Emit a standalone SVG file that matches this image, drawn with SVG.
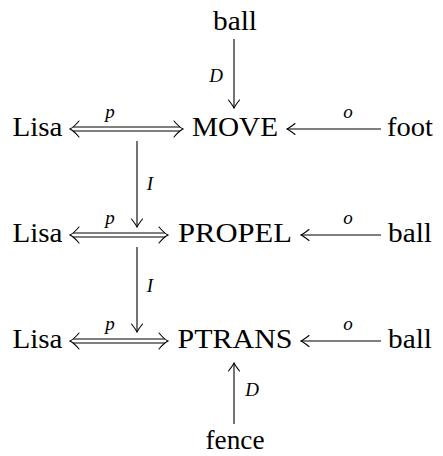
<svg xmlns="http://www.w3.org/2000/svg" width="443" height="456" viewBox="0 0 443 456">
<defs>
<style>
.t{font-family:"Liberation Serif","Times New Roman",serif;font-size:27px;fill:#000;text-anchor:middle}
.l{font-family:"Liberation Serif","Times New Roman",serif;font-style:italic;font-size:19px;fill:#000;text-anchor:middle}
.ln{stroke:#000;stroke-width:1.1;fill:none}
.hd{stroke:#000;stroke-width:1.1;fill:none;stroke-linecap:round}
</style>
<marker id="to" viewBox="-10 -7 12 14" markerWidth="12" markerHeight="14" refX="0" refY="0" orient="auto" markerUnits="userSpaceOnUse">
<path class="hd" d="M-8,-5.5 Q-2.5,-1.2 0,0 Q-2.5,1.2 -8,5.5"/>
</marker>
</defs>
<rect width="443" height="456" fill="#fff"/>
<g id="connectors">
<line class="ln" x1="234" y1="39" x2="234" y2="108" marker-end="url(#to)"/>
<text class="l" x="216" y="82">D</text>
<g id="dbl1">
<line class="ln" x1="73" y1="127" x2="180" y2="127"/>
<line class="ln" x1="73" y1="131" x2="180" y2="131"/>
<path class="hd" d="M79,121 Q74,127 70,129 Q74,131 79,137"/>
<path class="hd" d="M174,121 Q179,127 183,129 Q179,131 174,137"/>
</g>
<text class="l" x="110" y="118">p</text>
<line class="ln" x1="381" y1="129" x2="287" y2="129" marker-end="url(#to)"/>
<text class="l" x="348" y="118">o</text>
<line class="ln" x1="137" y1="141" x2="137" y2="227" marker-end="url(#to)"/>
<text class="l" x="150" y="190">I</text>
<g id="dbl2">
<line class="ln" x1="73" y1="233" x2="165" y2="233"/>
<line class="ln" x1="73" y1="237" x2="165" y2="237"/>
<path class="hd" d="M79,227 Q74,233 70,235 Q74,237 79,243"/>
<path class="hd" d="M159,227 Q164,233 168,235 Q164,237 159,243"/>
</g>
<text class="l" x="110" y="224">p</text>
<line class="ln" x1="381" y1="235" x2="301" y2="235" marker-end="url(#to)"/>
<text class="l" x="348" y="224">o</text>
<line class="ln" x1="137" y1="247" x2="137" y2="332" marker-end="url(#to)"/>
<text class="l" x="150" y="292">I</text>
<g id="dbl3">
<line class="ln" x1="73" y1="339" x2="165" y2="339"/>
<line class="ln" x1="73" y1="343" x2="165" y2="343"/>
<path class="hd" d="M79,333 Q74,339 70,341 Q74,343 79,349"/>
<path class="hd" d="M159,333 Q164,339 168,341 Q164,343 159,349"/>
</g>
<text class="l" x="110" y="330">p</text>
<line class="ln" x1="381" y1="341" x2="301" y2="341" marker-end="url(#to)"/>
<text class="l" x="348" y="330">o</text>
<line class="ln" x1="234" y1="424" x2="234" y2="363" marker-end="url(#to)"/>
<text class="l" x="252" y="396">D</text>
</g>
<g id="ball-top"><text class="t" x="235" y="30" textLength="44" lengthAdjust="spacingAndGlyphs">ball</text></g>
<g id="lisa1"><text class="t" x="37.5" y="136" textLength="50" lengthAdjust="spacingAndGlyphs">Lisa</text></g>
<g id="move"><text class="t" x="235" y="136" textLength="86" lengthAdjust="spacingAndGlyphs">MOVE</text></g>
<g id="foot"><text class="t" x="410" y="136" textLength="46" lengthAdjust="spacingAndGlyphs">foot</text></g>
<g id="lisa2"><text class="t" x="37.5" y="242" textLength="50" lengthAdjust="spacingAndGlyphs">Lisa</text></g>
<g id="propel"><text class="t" x="235" y="242" textLength="114" lengthAdjust="spacingAndGlyphs">PROPEL</text></g>
<g id="ball2"><text class="t" x="410" y="242" textLength="44" lengthAdjust="spacingAndGlyphs">ball</text></g>
<g id="lisa3"><text class="t" x="37.5" y="348" textLength="50" lengthAdjust="spacingAndGlyphs">Lisa</text></g>
<g id="ptrans"><text class="t" x="235" y="348" textLength="115" lengthAdjust="spacingAndGlyphs">PTRANS</text></g>
<g id="ball3"><text class="t" x="410" y="348" textLength="44" lengthAdjust="spacingAndGlyphs">ball</text></g>
<g id="fence"><text class="t" x="235" y="449" textLength="59" lengthAdjust="spacingAndGlyphs">fence</text></g>
</svg>
